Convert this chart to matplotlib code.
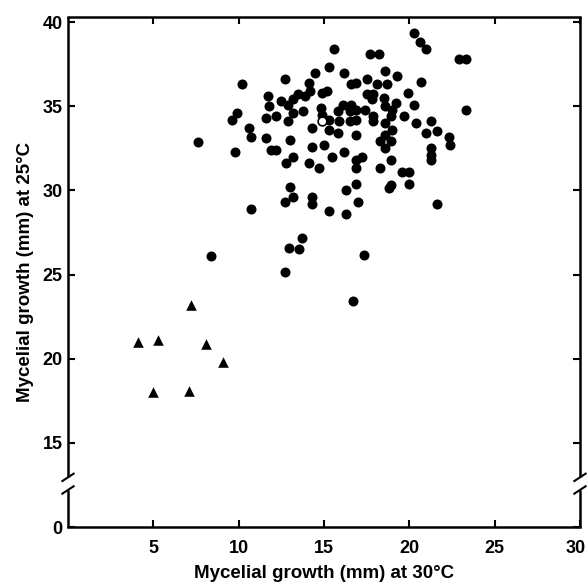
import matplotlib
matplotlib.use("Agg")
from matplotlib import pyplot as plt
from matplotlib import transforms
import numpy as np

# filled circles (growth at 30C, growth at 25C)
circle_x = [15.6, 17.7, 18.2, 15.3, 14.5, 16.2, 10.2, 12.7, 14.1, 16.6, 16.9, 17.5, 18.1,
            11.7, 13.5, 13.9, 14.2, 14.9, 15.2, 13.2, 12.5, 11.8, 12.9, 17.5, 17.9, 17.8,
            9.9, 9.6, 11.6, 12.2, 13.2, 13.8, 12.9, 14.8, 14.9, 15.8, 16.1, 16.6, 16.5,
            16.9, 17.4, 17.9, 17.9, 15.3, 15.9, 16.5, 16.9, 10.6, 10.7, 14.3, 15.3, 15.8,
            16.9, 7.6, 11.6, 13.0, 9.8, 11.9, 12.2, 14.3, 15.0, 16.2, 13.2, 12.8, 15.5,
            16.9, 17.2, 14.1, 14.7, 16.9, 13.0, 16.3, 16.9,
            20.3, 20.6, 21.0, 22.9, 23.35, 18.6, 19.3, 20.7, 18.7, 18.5, 19.9, 18.6, 19.2,
            19.0, 20.3, 23.3, 18.9, 19.7, 18.6, 20.4, 21.3, 19.0, 18.6, 21.0, 21.6, 22.3,
            22.4, 18.3, 18.9, 18.6, 21.3, 21.3, 21.3, 18.9, 18.3, 19.55, 20.0, 20.0, 18.9,
            18.8,
            13.2, 12.7, 14.3, 14.3, 10.7, 15.3, 16.3, 17.0, 21.6, 13.7, 12.95, 13.55, 8.4,
            17.35, 12.7, 16.7]
circle_y = [38.4, 38.1, 38.1, 37.3, 37.0, 37.0, 36.3, 36.6, 36.4, 36.3, 36.4, 36.6, 36.3,
            35.6, 35.7, 35.6, 35.9, 35.8, 35.9, 35.4, 35.3, 35.0, 35.1, 35.7, 35.7, 35.4,
            34.6, 34.2, 34.3, 34.4, 34.6, 34.7, 34.1, 34.9, 34.5, 34.7, 35.1, 35.1, 34.7,
            34.8, 34.8, 34.4, 34.1, 34.2, 34.1, 34.1, 34.2, 33.7, 33.2, 33.7, 33.6, 33.4,
            33.3, 32.9, 33.1, 33.0, 32.3, 32.4, 32.4, 32.6, 32.7, 32.3, 32.0, 31.6, 32.0,
            31.8, 32.0, 31.6, 31.3, 31.3, 30.2, 30.0, 30.4,
            39.35, 38.8, 38.4, 37.8, 37.8, 37.1, 36.8, 36.45, 36.3, 35.5, 35.8, 35.0, 35.2,
            34.8, 35.1, 34.8, 34.4, 34.4, 34.0, 34.0, 34.1, 33.6, 33.3, 33.4, 33.5, 33.15,
            32.7, 32.95, 32.95, 32.5, 32.5, 32.1, 31.8, 31.8, 31.3, 31.1, 31.1, 30.4, 30.3,
            30.15,
            29.6, 29.3, 29.6, 29.2, 28.9, 28.8, 28.6, 29.3, 29.2, 27.15, 26.55, 26.5, 26.1,
            26.15, 25.15, 23.45]

# open circle
open_x = [14.9]
open_y = [34.1]

# triangles
tri_x = [4.1, 5.3, 7.2, 8.1, 9.1, 5.0, 7.1]
tri_y = [21.0, 21.1, 23.2, 20.9, 19.8, 18.0, 18.1]

x_ticks = [5, 10, 15, 20, 25, 30]
y_ticks = [10, 15, 20, 25, 30, 35, 40]
y_tick_labels = ["0", "15", "20", "25", "30", "35", "40"]

fam = ["Liberation Sans", "DejaVu Sans"]

fig = plt.figure(figsize=(5.87, 5.82), dpi=100)
ax = fig.add_axes([0.1158, 0.0945, 0.8722, 0.8763])

ax.scatter(circle_x, circle_y, s=52, c="black", marker="o", linewidths=0, zorder=3)
ax.scatter(open_x, open_y, s=40, c="white", edgecolors="black", linewidths=1.2, zorder=4)
ax.scatter(tri_x, tri_y, s=58, c="black", marker="^", linewidths=0, zorder=3)

ax.set_xlim(0, 30)
ax.set_ylim(10, 40.3)
ax.set_xticks(x_ticks)
ax.set_yticks(y_ticks)
ax.set_yticklabels(y_tick_labels)
ax.tick_params(direction="in", length=5, width=1.5, top=True, right=True)
ax.tick_params(axis="x", pad=9)
ax.tick_params(axis="y", pad=4)
for lab in ax.get_xticklabels() + ax.get_yticklabels():
    lab.set_fontfamily(fam)
    lab.set_fontweight("bold")
    lab.set_fontsize(13)
# keep the "30" inside the picture
last = ax.get_xticklabels()[-1]
last.set_transform(last.get_transform() + transforms.ScaledTranslation(-4 / 100, 0, fig.dpi_scale_trans))

for side in ["top", "bottom"]:
    ax.spines[side].set_linewidth(1.8)
ax.spines["left"].set_visible(False)
ax.spines["right"].set_visible(False)

# side axes with a break between 0 and 15
trans = ax.get_yaxis_transform()
gap_lo, gap_hi = 12.2, 12.95
for xa in [0, 1]:
    ax.plot([xa, xa], [10, gap_lo], transform=trans, color="black", lw=1.8,
            clip_on=False, solid_capstyle="butt")
    ax.plot([xa, xa], [gap_hi, 40.3], transform=trans, color="black", lw=1.8,
            clip_on=False, solid_capstyle="butt")
    for yb in [gap_lo, gap_hi]:
        ax.plot([xa - 0.011, xa + 0.011], [yb - 0.22, yb + 0.22], transform=trans,
                color="black", lw=1.5, clip_on=False)

ax.set_xlabel("Mycelial growth (mm) at 30°C", family=fam, weight="bold", size=13.5, labelpad=6)
ax.set_ylabel("Mycelial growth (mm) at 25°C", family=fam, weight="bold", size=13.5, labelpad=6)

fig.savefig("out.png", dpi=100)
